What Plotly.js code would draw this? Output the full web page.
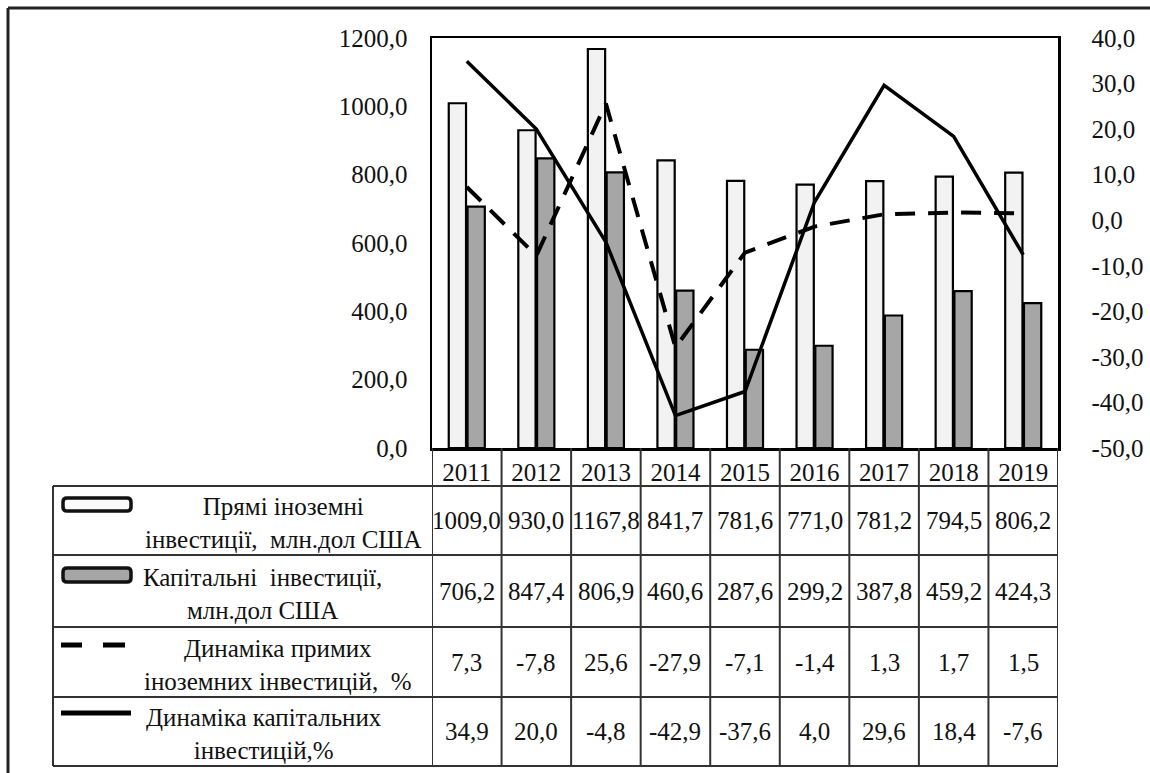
<!DOCTYPE html>
<html><head><meta charset="utf-8">
<script src="https://cdn.plot.ly/plotly-3.0.1.min.js"></script>
<style>html,body{margin:0;padding:0;background:#fff}</style>
</head><body>
<div id="chart" style="width:1150px;height:773px"></div>
<script>
// ---- data ----
const years = ['2011','2012','2013','2014','2015','2016','2017','2018','2019'];
const fdi = [1009.0, 930.0, 1167.8, 841.7, 781.6, 771.0, 781.2, 794.5, 806.2];
const capInv = [706.2, 847.4, 806.9, 460.6, 287.6, 299.2, 387.8, 459.2, 424.3];
const fdiDyn = [7.3, -7.8, 25.6, -27.9, -7.1, -1.4, 1.3, 1.7, 1.5];
const capDyn = [34.9, 20.0, -4.8, -42.9, -37.6, 4.0, 29.6, 18.4, -7.6];
const leftTicks = [0, 200, 400, 600, 800, 1000, 1200];
const leftTickText = ['0,0','200,0','400,0','600,0','800,0','1000,0','1200,0'];
const rightTicks = [-50, -40, -30, -20, -10, 0, 10, 20, 30, 40];
const rightTickText = ['-50,0','-40,0','-30,0','-20,0','-10,0','0,0','10,0','20,0','30,0','40,0'];
const rowLabels = [
  'Прямі іноземні<br>інвестиції,  млн.дол США',
  'Капітальні  інвестиції,<br>млн.дол США',
  'Динаміка примих<br>іноземних інвестицій,  %',
  'Динаміка капітальних<br>інвестицій,%'
];
const tableRows = [fdi, capInv, fdiDyn, capDyn];

// ---- geometry (pixels) ----
const W = 1150, H = 773, PL = 432, PR = 1058, PT = 38, PB = 448;
const px = x => (x - PL) / (PR - PL);
const py = y => (PB - y) / (PB - PT);
const rowEdges = [486, 555, 627, 697, 766];
const labelCx = [283, 262, 278, 264];
const labelCy = [523, 594, 665, 734];
const FONT = "'Liberation Serif', 'Times New Roman', serif";
const FS = 25;
const TXT = '#111';
const GRID = '#333';
const fmt = v => v.toFixed(1).replace('.', ',');

const traces = [
  {type:'bar', name:'Прямі іноземні інвестиції, млн.дол США', x:years, y:fdi,
   marker:{color:'#f2f2f2', line:{color:'#000', width:2.2}}},
  {type:'bar', name:'Капітальні інвестиції, млн.дол США', x:years, y:capInv,
   marker:{color:'#a6a6a6', line:{color:'#000', width:2.2}}},
  {type:'scatter', mode:'lines', name:'Динаміка примих іноземних інвестицій, %', x:years, y:fdiDyn, yaxis:'y2',
   line:{color:'#000', width:4, dash:'20px,13px'}},
  {type:'scatter', mode:'lines', name:'Динаміка капітальних інвестицій,%', x:years, y:capDyn, yaxis:'y2',
   line:{color:'#000', width:3.5}}
];

const shapes = [];
const annotations = [];
// outer frame
shapes.push({type:'line', xref:'paper', yref:'paper', x0:px(8), x1:px(1150), y0:py(8), y1:py(8), line:{color:'#222', width:3}});
shapes.push({type:'line', xref:'paper', yref:'paper', x0:px(8), x1:px(8), y0:py(8), y1:py(773), line:{color:'#222', width:3}});
// table horizontal lines
rowEdges.forEach(e => shapes.push({type:'line', xref:'paper', yref:'paper', x0:px(53), x1:px(1058), y0:py(e), y1:py(e), line:{color:GRID, width:2}}));
// table vertical lines
shapes.push({type:'line', xref:'paper', yref:'paper', x0:px(53), x1:px(53), y0:py(486), y1:py(766), line:{color:GRID, width:2}});
for (let i = 0; i <= years.length; i++) {
  shapes.push({type:'line', xref:'x', yref:'paper', x0:i-0.5, x1:i-0.5, y0:py(448), y1:py(766), line:{color:GRID, width:2}});
}
// legend swatches
const rr = (x0,y0,x1,y1,r) => `M${px(x0+r)},${py(y0)} L${px(x1-r)},${py(y0)} Q${px(x1)},${py(y0)} ${px(x1)},${py(y0+r)} L${px(x1)},${py(y1-r)} Q${px(x1)},${py(y1)} ${px(x1-r)},${py(y1)} L${px(x0+r)},${py(y1)} Q${px(x0)},${py(y1)} ${px(x0)},${py(y1-r)} L${px(x0)},${py(y0+r)} Q${px(x0)},${py(y0)} ${px(x0+r)},${py(y0)} Z`;
shapes.push({type:'path', xref:'paper', yref:'paper', path:rr(63,498,131,511,4), fillcolor:'#fafafa', line:{color:'#111', width:3.5}});
shapes.push({type:'path', xref:'paper', yref:'paper', path:rr(63,568,131,582,4), fillcolor:'#a6a6a6', line:{color:'#111', width:3.5}});
shapes.push({type:'line', xref:'paper', yref:'paper', x0:px(61), x1:px(82), y0:py(645), y1:py(645), line:{color:'#000', width:5}});
shapes.push({type:'line', xref:'paper', yref:'paper', x0:px(103), x1:px(125), y0:py(645), y1:py(645), line:{color:'#000', width:5}});
shapes.push({type:'line', xref:'paper', yref:'paper', x0:px(61), x1:px(131), y0:py(713), y1:py(713), line:{color:'#000', width:5}});

// table texts
for (let r = 0; r < tableRows.length; r++) {
  const cy = py((rowEdges[r] + rowEdges[r+1]) / 2);
  annotations.push({xref:'paper', yref:'paper', x:px(labelCx[r]), y:py(labelCy[r]), text:rowLabels[r], showarrow:false,
    align:'center', xanchor:'center', yanchor:'middle', font:{family:FONT, size:FS, color:TXT}});
  tableRows[r].forEach((v, i) => annotations.push({xref:'x', yref:'paper', x:i, y:cy, text:fmt(v), showarrow:false,
    xanchor:'center', yanchor:'middle', font:{family:FONT, size:FS, color:TXT}}));
}

const layout = {
  width:W, height:H,
  margin:{l:PL, r:W-PR, t:PT, b:H-PB, pad:0},
  paper_bgcolor:'#fff', plot_bgcolor:'#fff',
  showlegend:false,
  barmode:'group', bargap:0.46, bargroupgap:0.08,
  font:{family:FONT, color:TXT},
  xaxis:{type:'category', range:[-0.5, 8.5], showgrid:false, zeroline:false,
    showline:true, mirror:true, linecolor:'#000', linewidth:2.5, ticks:'',
    tickfont:{family:FONT, size:FS, color:TXT}, ticklabelstandoff:0},
  yaxis:{range:[0,1200], tickvals:leftTicks, ticktext:leftTickText, showgrid:false, zeroline:false,
    showline:true, mirror:true, linecolor:'#000', linewidth:2.5, ticks:'',
    tickfont:{family:FONT, size:FS, color:TXT}, ticklabelstandoff:17},
  yaxis2:{range:[-50,40], overlaying:'y', side:'right', tickvals:rightTicks, ticktext:rightTickText,
    showgrid:false, zeroline:false, showline:true, linecolor:'#000', linewidth:2.5, ticks:'',
    tickfont:{family:FONT, size:FS, color:TXT}, ticklabelstandoff:26},
  shapes:shapes, annotations:annotations
};
Plotly.newPlot('chart', traces, layout, {staticPlot:true, displayModeBar:false});
</script>
</body></html>
